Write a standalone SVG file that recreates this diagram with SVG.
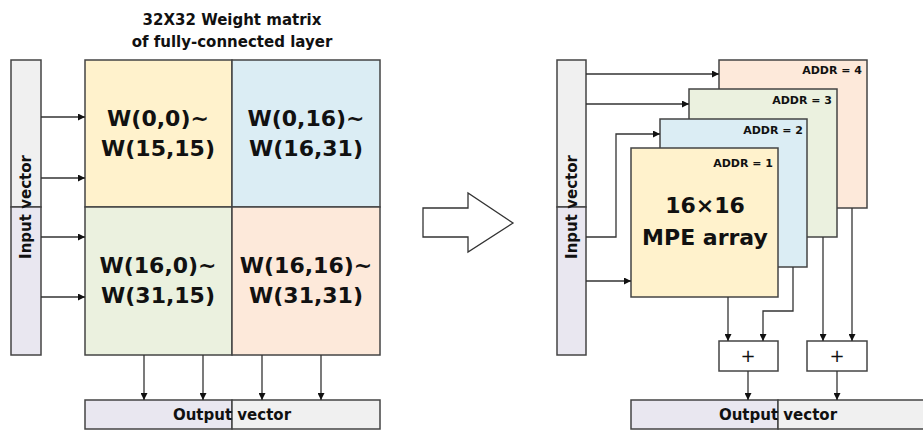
<svg xmlns="http://www.w3.org/2000/svg" width="923" height="431" viewBox="0 0 923 431">
<defs>
<marker id="ah" viewBox="0 0 10 10" refX="10" refY="5" markerWidth="8" markerHeight="7" markerUnits="userSpaceOnUse" orient="auto">
<path d="M0,0 L10,5 L0,10 z" fill="#111"/>
</marker>
<style>
.box{stroke:#444;stroke-width:1.5}
.ln{stroke:#333;stroke-width:1.3;fill:none;marker-end:url(#ah)}
.t{font-family:"DejaVu Sans","Noto Sans",sans-serif;font-weight:bold;fill:#111}
.big{font-size:22px;text-anchor:middle}
.mid{font-size:15px;text-anchor:middle}
.addr{font-size:11px;text-anchor:end}
.plus{font-size:18px;font-weight:normal;text-anchor:middle}
.gray{fill:#f0f0f0}
.lav{fill:#e9e7f0}
.yel{fill:#fff2cc}
.blu{fill:#dbedf4}
.grn{fill:#ebf1df}
.pch{fill:#fde9da}
</style>
</defs>
<rect width="923" height="431" fill="#fff"/>

<!-- LEFT -->
<g id="title">
<text class="t mid" x="232" y="25">32X32 Weight matrix</text>
<text class="t mid" x="232" y="47">of fully-connected layer</text>
</g>
<g id="input-left">
<rect class="box gray" x="11" y="60" width="30" height="147"/>
<rect class="box lav" x="11" y="207" width="30" height="148"/>
<text class="t mid" transform="translate(31,207) rotate(-90)" x="0" y="0">Input vector</text>
</g>
<g id="cell00">
<rect class="box yel" x="85" y="60" width="147" height="147"/>
<text class="t big" x="158" y="126">W(0,0)~</text>
<text class="t big" x="158" y="156">W(15,15)</text>
</g>
<g id="cell01">
<rect class="box blu" x="232" y="60" width="148" height="147"/>
<text class="t big" x="306" y="126">W(0,16)~</text>
<text class="t big" x="306" y="156">W(16,31)</text>
</g>
<g id="cell10">
<rect class="box grn" x="85" y="207" width="147" height="148"/>
<text class="t big" x="158" y="273">W(16,0)~</text>
<text class="t big" x="158" y="303">W(31,15)</text>
</g>
<g id="cell11">
<rect class="box pch" x="232" y="207" width="148" height="148"/>
<text class="t big" x="306" y="273">W(16,16)~</text>
<text class="t big" x="306" y="303">W(31,31)</text>
</g>
<g id="output-left">
<rect class="box lav" x="85" y="400" width="147" height="29"/>
<rect class="box gray" x="232" y="400" width="148" height="29"/>
<text class="t mid" x="232" y="420">Output vector</text>
</g>

<!-- big hollow arrow -->
<g id="transform-arrow">
<path d="M423,208 L468,208 L468,193 L513,223 L468,252 L468,237 L423,237 Z" fill="#fff" stroke="#333" stroke-width="1.3"/>
</g>

<!-- RIGHT -->
<g id="input-right">
<rect class="box gray" x="557" y="60" width="29" height="147"/>
<rect class="box lav" x="557" y="207" width="29" height="148"/>
<text class="t mid" transform="translate(577,207) rotate(-90)" x="0" y="0">Input vector</text>
</g>
<g id="addr4">
<rect class="box pch" x="719" y="60" width="148" height="148"/>
<text class="t addr" x="862" y="74">ADDR = 4</text>
</g>
<g id="addr3">
<rect class="box grn" x="689" y="89" width="148" height="148"/>
<text class="t addr" x="832" y="104">ADDR = 3</text>
</g>
<g id="addr2">
<rect class="box blu" x="660" y="119" width="147" height="148"/>
<text class="t addr" x="803" y="134">ADDR = 2</text>
</g>
<g id="addr1">
<rect class="box yel" x="631" y="148" width="147" height="149"/>
<text class="t addr" x="773" y="167">ADDR = 1</text>
<text class="t big" x="705" y="213">16×16</text>
<text class="t big" x="705" y="245">MPE array</text>
</g>
<g id="adder1">
<rect class="box" fill="#fff" x="719" y="341" width="59" height="30"/>
<text class="t plus" x="748" y="362">+</text>
</g>
<g id="adder2">
<rect class="box" fill="#fff" x="807" y="341" width="60" height="30"/>
<text class="t plus" x="837" y="362">+</text>
</g>
<g id="output-right">
<rect class="box lav" x="631" y="400" width="147" height="29"/>
<rect class="box gray" x="778" y="400" width="150" height="29"/>
<text class="t mid" x="778" y="420">Output vector</text>
</g>

<g id="connectors">
<path class="ln" d="M41,117 H85"/>
<path class="ln" d="M41,178 H85"/>
<path class="ln" d="M41,237 H85"/>
<path class="ln" d="M41,297 H85"/>
<path class="ln" d="M144,355 V400"/>
<path class="ln" d="M203,355 V400"/>
<path class="ln" d="M262,355 V400"/>
<path class="ln" d="M321,355 V400"/>
<path class="ln" d="M586,74 H719"/>
<path class="ln" d="M586,104 H689"/>
<path class="ln" d="M586,237 H616 V134 H660"/>
<path class="ln" d="M586,281 H631"/>
<path class="ln" d="M728,297 V341"/>
<path class="ln" d="M793,267 V311 H763 V341"/>
<path class="ln" d="M823,237 V341"/>
<path class="ln" d="M852,208 V341"/>
<path class="ln" d="M748,371 V400"/>
<path class="ln" d="M837,371 V400"/>
</g>
</svg>
